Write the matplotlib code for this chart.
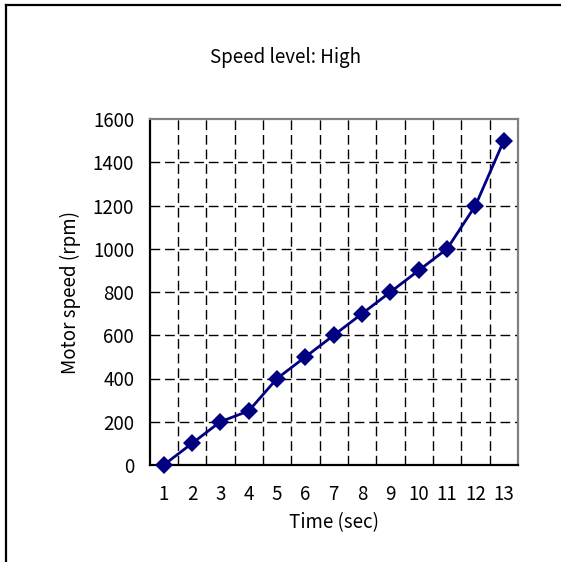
import matplotlib
matplotlib.use("Agg")
import matplotlib.pyplot as plt
from matplotlib.lines import Line2D
from matplotlib.ticker import FixedLocator

plt.rcParams['font.family'] = ['Noto Sans CJK JP', 'DejaVu Sans']

time_sec = [1, 2, 3, 4, 5, 6, 7, 8, 9, 10, 11, 12, 13]
speed_rpm = [0, 100, 200, 250, 400, 500, 600, 700, 800, 900, 1000, 1200, 1500]
y_ticks = [0, 200, 400, 600, 800, 1000, 1200, 1400, 1600]
title = "Speed level: High"
xlabel = "Time (sec)"
ylabel = "Motor speed (rpm)"

W, H = 561, 562
fig = plt.figure(figsize=(W / 100, H / 100), dpi=100)
fig.patch.set_facecolor("white")

L, R, T, B = 149.5, 518, 119, 465
ax = fig.add_axes([L / W, 1 - B / H, (R - L) / W, (B - T) / H])

ax.plot(time_sec, speed_rpm, color="#000080", lw=2.0, marker="D", ms=9,
        markeredgewidth=0, zorder=5, clip_on=False)

ax.set_xlim(0.5, len(time_sec) + 0.5)
ax.set_ylim(0, 1600)
ax.set_xticks(time_sec)
ax.set_xticklabels([str(t) for t in time_sec])
ax.set_yticks(y_ticks)
ax.set_yticklabels([str(v) for v in y_ticks])
ax.xaxis.set_minor_locator(FixedLocator([t + 0.5 for t in time_sec[:-1]]))
ax.tick_params(axis="both", which="both", length=0, labelsize=13.5, colors="black")
ax.tick_params(axis="x", pad=13.5)
ax.tick_params(axis="y", pad=11)

dash = (0, (7, 3.5))
ax.grid(False)
for yv in y_ticks[1:-1]:
    ax.axhline(yv, color="black", lw=1.0, linestyle=dash, zorder=1)
for xv in [t + 0.5 for t in time_sec[:-1]]:
    ax.axvline(xv, color="black", lw=1.0, linestyle=dash, zorder=1)

for s in ["left", "bottom"]:
    ax.spines[s].set_color("black")
    ax.spines[s].set_linewidth(1.6)
for s in ["top", "right"]:
    ax.spines[s].set_color("#808080")
    ax.spines[s].set_linewidth(1.6)

fig.text(286 / W, 1 - 57 / H, title, ha="center", va="center", fontsize=13.5)
fig.text(334 / W, 1 - 523 / H, xlabel, ha="center", va="center", fontsize=13.5)
fig.text(70 / W, 1 - 292 / H, ylabel, ha="center", va="center", rotation=90, fontsize=13.5)

# outer chart border (left and top visible)
fig.add_artist(Line2D([5.5 / W, 5.5 / W], [0, 1 - 4.5 / H], transform=fig.transFigure,
                      color="black", lw=1.6))
fig.add_artist(Line2D([5.5 / W, 1], [1 - 4.5 / H, 1 - 4.5 / H], transform=fig.transFigure,
                      color="black", lw=1.6))

fig.savefig("out.png", dpi=100, facecolor="white")
